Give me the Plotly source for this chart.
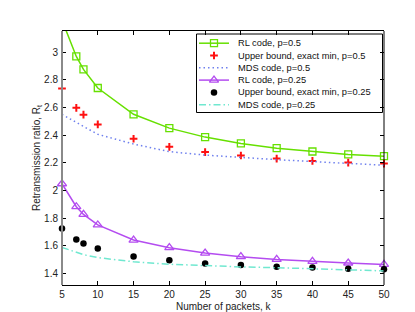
import plotly.graph_objects as go

# ---------------- data ----------------
k = [5, 7, 8, 10, 15, 20, 25, 30, 35, 40, 45, 50]
rl_p50 = [3.23, 2.968, 2.874, 2.740, 2.550, 2.450, 2.385, 2.339, 2.305, 2.281, 2.260, 2.247]
ub_p50 = [2.737, 2.597, 2.547, 2.477, 2.373, 2.315, 2.277, 2.252, 2.230, 2.213, 2.201, 2.194]
mds_p50 = [2.549, 2.489, 2.462, 2.405, 2.335, 2.280, 2.255, 2.237, 2.222, 2.208, 2.195, 2.182]
rl_p25 = [2.048, 1.882, 1.826, 1.750, 1.641, 1.586, 1.547, 1.521, 1.501, 1.487, 1.475, 1.465]
ub_p25 = [1.725, 1.645, 1.616, 1.580, 1.522, 1.494, 1.472, 1.461, 1.448, 1.443, 1.434, 1.429]
mds_p25 = [1.588, 1.550, 1.535, 1.514, 1.484, 1.466, 1.455, 1.447, 1.441, 1.435, 1.428, 1.418]

x_ticks = [5, 10, 15, 20, 25, 30, 35, 40, 45, 50]
y_ticks = [1.4, 1.6, 1.8, 2.0, 2.2, 2.4, 2.6, 2.8, 3.0]
y_ticktext = ["1.4", "1.6", "1.8", "2", "2.2", "2.4", "2.6", "2.8", "3"]

legend_labels = ["RL code, p=0.5", "Upper bound, exact min, p=0.5", "MDS code, p=0.5",
                 "RL code, p=0.25", "Upper bound, exact min, p=0.25", "MDS code, p=0.25"]
x_title = "Number of packets, k"
y_title = "Retransmission ratio, R<sub>t</sub>"

# ---------------- styles ----------------
GREEN = "#66e000"
RED = "#ff1010"
BLUE = "#6f80ee"
PURPLE = "#b44cf0"
BLACK = "#000000"
CYAN = "#70e8d0"
FONT = "Liberation Sans, Arial, sans-serif"
DOT = "1.5px,3px"
DASHDOT = "7px,3px,1.5px,3px"

W, H = 415, 312
L, R, T, B = 54, 39, 23, 35


def pxx(x):
    return (x - L) / (W - L - R)


def pxy(y):
    return (H - B - y) / (H - T - B)


M_SQ = dict(symbol="square-open", size=7, color=GREEN, line=dict(width=1.3))
M_PLUS = dict(symbol="cross-thin-open", size=5.5, color=RED, line=dict(width=2, color=RED))
M_TRI = dict(symbol="triangle-up-open", size=8, color=PURPLE, line=dict(width=1.3))
M_DOT = dict(symbol="circle", size=6.5, color=BLACK)

fig = go.Figure()

# RL p=0.5: line (incl. off-chart start) + markers
fig.add_trace(go.Scatter(x=k, y=rl_p50, mode="lines", line=dict(color=GREEN, width=1.5),
                         showlegend=False))
fig.add_trace(go.Scatter(x=k[1:], y=rl_p50[1:], mode="markers", cliponaxis=False,
                         marker=M_SQ, showlegend=False))
fig.add_trace(go.Scatter(x=k, y=ub_p50, mode="markers", cliponaxis=False,
                         marker=M_PLUS, showlegend=False))
fig.add_trace(go.Scatter(x=k, y=mds_p50, mode="lines", line=dict(color=BLUE, width=1.5, dash=DOT),
                         showlegend=False))
fig.add_trace(go.Scatter(x=k, y=rl_p25, mode="lines+markers", cliponaxis=False,
                         line=dict(color=PURPLE, width=1.5), marker=M_TRI, showlegend=False))
fig.add_trace(go.Scatter(x=k, y=ub_p25, mode="markers", cliponaxis=False,
                         marker=M_DOT, showlegend=False))
fig.add_trace(go.Scatter(x=k, y=mds_p25, mode="lines", line=dict(color=CYAN, width=1.5, dash=DASHDOT),
                         showlegend=False))

# ---------------- custom legend (compact rows) ----------------
box_x0, box_x1, box_y0, box_y1 = 188.5, 374.5, 26, 104.5
row_y0, row_step = 35.2, 12.3
ln_x0, ln_x1, mk_x, txt_x = 191, 221, 206, 228

legend_styles = [
    dict(line=dict(color=GREEN, width=1.5), marker=M_SQ),
    dict(line=None, marker=M_PLUS),
    dict(line=dict(color=BLUE, width=1.5, dash=DOT), marker=None),
    dict(line=dict(color=PURPLE, width=1.5), marker=M_TRI),
    dict(line=None, marker=M_DOT),
    dict(line=dict(color=CYAN, width=1.5, dash=DASHDOT), marker=None),
]

shapes = [
    dict(type="rect", xref="paper", yref="paper", x0=pxx(box_x0), x1=pxx(box_x1),
         y0=pxy(box_y1), y1=pxy(box_y0), line=dict(color="black", width=1),
         fillcolor="white", layer="below"),
]
annotations = []
for i, (lab, st) in enumerate(zip(legend_labels, legend_styles)):
    yy = pxy(row_y0 + i * row_step)
    if st["line"] is not None:
        fig.add_trace(go.Scatter(x=[pxx(ln_x0), pxx(ln_x1)], y=[yy, yy], mode="lines",
                                 line=st["line"], xaxis="x2", yaxis="y2", showlegend=False,
                                 hoverinfo="skip"))
    if st["marker"] is not None:
        fig.add_trace(go.Scatter(x=[pxx(mk_x)], y=[yy], mode="markers", marker=st["marker"],
                                 xaxis="x2", yaxis="y2", showlegend=False, hoverinfo="skip",
                                 cliponaxis=False))
    annotations.append(dict(x=pxx(txt_x), y=yy, xref="paper", yref="paper", text=lab,
                            showarrow=False, xanchor="left", yanchor="middle",
                            font=dict(family=FONT, size=9.3, color="#111")))

# x-axis title placed tightly under tick labels
annotations.append(dict(x=0.5, y=pxy(298.5), xref="paper", yref="paper", text=x_title,
                        showarrow=False, xanchor="center", yanchor="middle",
                        font=dict(family=FONT, size=10, color="#222")))

# axis spines: grey left, black right
shapes.append(dict(type="line", xref="paper", yref="paper", x0=0, x1=0, y0=0, y1=1,
                   line=dict(color="#8a8a8a", width=2), layer="above"))
shapes.append(dict(type="line", xref="paper", yref="paper", x0=1, x1=1, y0=0, y1=1,
                   line=dict(color="black", width=1), layer="above"))

fig.update_layout(
    width=W, height=H,
    margin=dict(l=L, r=R, t=T, b=B),
    paper_bgcolor="white", plot_bgcolor="white",
    font=dict(family=FONT, size=10, color="#222"),
    showlegend=False,
    shapes=shapes,
    annotations=annotations,
    xaxis=dict(range=[5, 50], tickvals=x_ticks, ticks="inside", ticklen=4, tickcolor="black",
               showline=True, linecolor="black", linewidth=1, mirror="ticks", showgrid=False,
               zeroline=False, tickfont=dict(size=10)),
    yaxis=dict(range=[1.316, 3.152], tickvals=y_ticks, ticktext=y_ticktext, ticks="inside",
               ticklen=4, tickcolor="black", showline=False, mirror="ticks", showgrid=False,
               zeroline=False, tickfont=dict(size=10), ticklabelstandoff=3,
               title=dict(text=y_title, font=dict(size=10), standoff=1)),
    xaxis2=dict(range=[0, 1], overlaying="x", anchor="y2", visible=False, fixedrange=True),
    yaxis2=dict(range=[0, 1], overlaying="y", anchor="x2", visible=False, fixedrange=True),
)

fig.write_html("out.html")
